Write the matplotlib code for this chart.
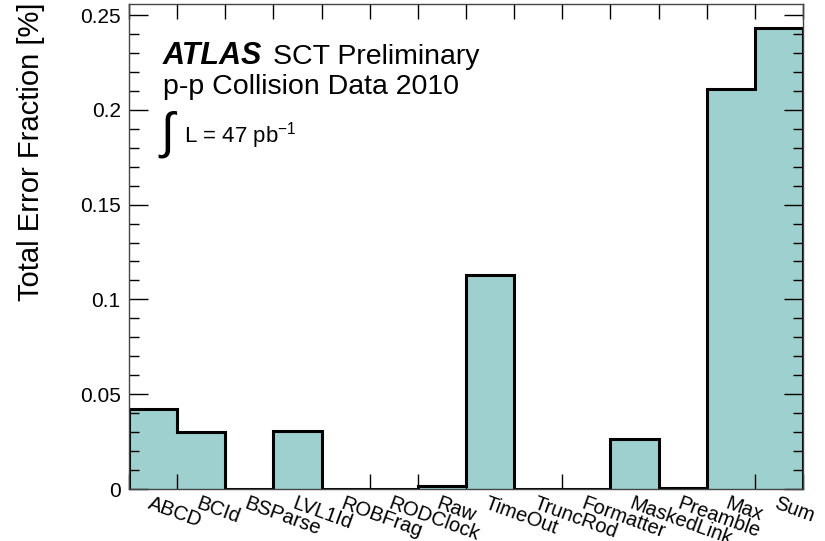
import numpy as np
import matplotlib
matplotlib.use("Agg")
import matplotlib.pyplot as plt
from matplotlib.ticker import MultipleLocator, FixedLocator

plt.rcParams['font.family'] = ['Liberation Sans', 'DejaVu Sans']
plt.rcParams['mathtext.fontset'] = 'custom'
plt.rcParams['mathtext.rm'] = 'Liberation Sans'

# SCT ROD error types and fraction of events flagged (%)
error_types = ['ABCD', 'BCId', 'BSParse', 'LVL1Id', 'ROBFrag', 'RODClock', 'Raw',
               'TimeOut', 'TruncRod', 'Formatter', 'MaskedLink', 'Preamble', 'Max', 'Sum']
error_frac = [0.0422, 0.0300, 0.0, 0.0306, 0.0, 0.0, 0.0017,
              0.1129, 0.0, 0.0, 0.0264, 0.0007, 0.2110, 0.2433]
y_ticks = [0, 0.05, 0.1, 0.15, 0.2, 0.25]
y_ticklabels = ['0', '0.05', '0.1', '0.15', '0.2', '0.25']

nbins = len(error_types)
edges = np.arange(nbins + 1)
centers = edges[:-1] + 0.5

fig = plt.figure(figsize=(8.25, 5.41), dpi=100)
ax = fig.add_axes([0.1564, 0.0961, 0.8169, 0.8965])

# filled histogram, then a thick black outline on top
ax.stairs(error_frac, edges, fill=True, facecolor='#9dd0cf', edgecolor='none')
ax.stairs(error_frac, edges, baseline=0, fill=False, color='black', lw=2.2)

ax.set_xlim(0, nbins)
ax.set_ylim(0, 0.2558)

ax.xaxis.set_major_locator(FixedLocator(edges))
ax.set_xticklabels([])
ax.tick_params(axis='x', which='major', direction='in', length=11, width=1,
               top=True, bottom=True)
ax.set_yticks(y_ticks)
ax.set_yticklabels(y_ticklabels, fontsize=15)
ax.yaxis.set_minor_locator(MultipleLocator(0.01))
ax.tick_params(axis='y', which='major', direction='in', length=14, width=1,
               left=True, right=True, pad=6)
ax.tick_params(axis='y', which='minor', direction='in', length=7, width=1,
               left=True, right=True)
for s in ax.spines.values():
    s.set_linewidth(1)
    s.set_color('#444444')

ax.set_ylabel('Total Error Fraction [%]', fontsize=21)
ax.yaxis.set_label_coords(-0.125, 0.695)

# rotated bin labels hanging from the bin centres
for c, name in zip(centers, error_types):
    ax.text(c - 0.02, -0.01, name, transform=ax.get_xaxis_transform(),
            rotation=-20, rotation_mode='anchor', ha='left', va='top', fontsize=14.5)

ax.text(0.05, 0.876, 'ATLAS', transform=ax.transAxes, fontsize=22,
        fontweight='bold', fontstyle='italic', va='baseline')
ax.text(0.214, 0.876, 'SCT Preliminary', transform=ax.transAxes, fontsize=20.5,
        va='baseline')
ax.text(0.05, 0.814, 'p-p Collision Data 2010', transform=ax.transAxes,
        fontsize=20.5, va='baseline')
ax.text(0.047, 0.705, '\u222b', transform=ax.transAxes, fontsize=36,
        fontweight='light', va='baseline')
ax.text(0.082, 0.715, r'L = 47 pb$^{\mathregular{-1}}$', transform=ax.transAxes,
        fontsize=16, va='baseline')

fig.savefig('out.png', dpi=100)
